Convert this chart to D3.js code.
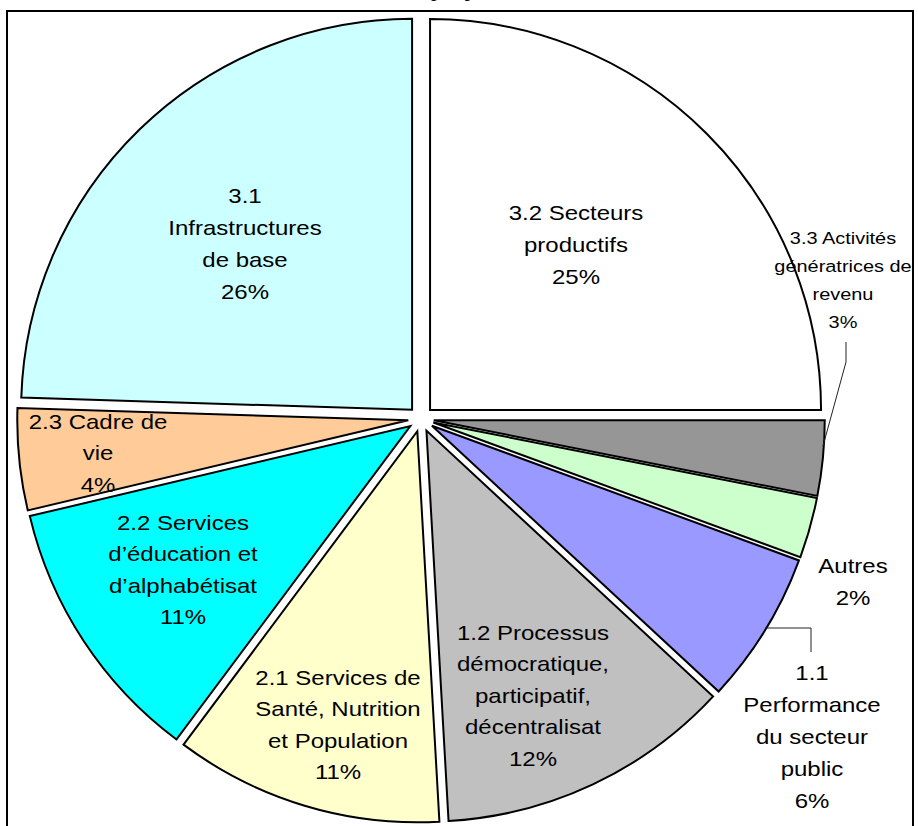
<!DOCTYPE html>
<html>
<head>
<meta charset="utf-8">
<script src="https://cdn.jsdelivr.net/npm/d3@7"></script>
<style>
html,body{margin:0;padding:0;background:#fff;}
svg{display:block;}
</style>
</head>
<body>
<svg id="chart" width="918" height="826"></svg>
<script>
// ---- data ----
const categories = [
  "3.2 Secteurs productifs",
  "3.3 Activités génératrices de revenu",
  "Autres",
  "1.1 Performance du secteur public",
  "1.2 Processus démocratique, participatif, décentralisat",
  "2.1 Services de Santé, Nutrition et Population",
  "2.2 Services d’éducation et d’alphabétisat",
  "2.3 Cadre de vie",
  "3.1 Infrastructures de base"
];
const values = [25.0, 3.1, 2.5, 6.3, 12.2, 11.1, 11.1, 4.2, 24.5];
const percentLabels = ["25%", "3%", "2%", "6%", "12%", "11%", "11%", "4%", "26%"];
const labelLines = [
  ["3.2 Secteurs", "productifs", "25%"],
  ["3.3 Activités", "génératrices de", "revenu", "3%"],
  ["Autres", "2%"],
  ["1.1", "Performance", "du secteur", "public", "6%"],
  ["1.2 Processus", "démocratique,", "participatif,", "décentralisat", "12%"],
  ["2.1 Services de", "Santé, Nutrition", "et Population", "11%"],
  ["2.2 Services", "d’éducation et", "d’alphabétisat", "11%"],
  ["2.3 Cadre de", "vie", "4%"],
  ["3.1", "Infrastructures", "de base", "26%"]
];
const colors = ["#FFFFFF", "#969696", "#CCFFCC", "#9999FF", "#C0C0C0", "#FFFFCC", "#00FFFF", "#FFCC99", "#CCFFFF"];

// ---- layout ----
const svg = d3.select("#chart");
const cx = 421, cy = 419, R = 391, explode = 12.8;

// partially cropped title at the very top
const title = svg.append("text")
  .attr("y", -4)
  .attr("font-family", "Liberation Serif, Times New Roman, serif")
  .attr("font-size", 22)
  .attr("fill", "#000")
  .text("Ventilation par pilier");
try {
  const full = title.node().textContent;
  const idx = full.indexOf("par");
  const pre = title.node().getSubStringLength(0, idx);
  title.attr("x", 431 - pre);
} catch (e) { title.attr("x", 330); }

// frame
svg.append("rect")
  .attr("x", 7).attr("y", 11)
  .attr("width", 906).attr("height", 840)
  .attr("fill", "none").attr("stroke", "#000").attr("stroke-width", 2);

const pie = d3.pie().sort(null).value(d => d).startAngle(0).endAngle(2 * Math.PI);
const arcs = pie(values);
const arc = d3.arc().innerRadius(0).outerRadius(R);

const g = svg.append("g").attr("transform", `translate(${cx},${cy})`);
g.selectAll("path.slice")
  .data(arcs)
  .join("path")
  .attr("class", "slice")
  .attr("transform", d => {
    const m = (d.startAngle + d.endAngle) / 2;
    return `translate(${explode * Math.sin(m)},${-explode * Math.cos(m)})`;
  })
  .attr("d", arc)
  .attr("fill", (d, i) => colors[i])
  .attr("stroke", "#000")
  .attr("stroke-width", 2)
  .attr("stroke-linejoin", "miter");

// leader lines
const leaders = [
  [[846, 342], [846, 362], [823, 446]],
  [[765, 628], [811, 628], [811, 652]]
];
svg.selectAll("path.leader")
  .data(leaders)
  .join("path")
  .attr("class", "leader")
  .attr("d", d3.line())
  .attr("fill", "none")
  .attr("stroke", "#222")
  .attr("stroke-width", 1);

// labels: anchor x, first baseline, line spacing, font size
const labelPos = [
  [576, 220, 32, 20],
  [843, 244, 28, 16.6],
  [853, 573, 32, 20],
  [812, 680, 32, 20],
  [533, 640, 31.5, 20],
  [338, 685, 31.5, 20],
  [183, 530, 31.5, 20],
  [98, 429, 31.5, 20],
  [245, 203, 32, 20]
];
const sx = 1.2;
labelLines.forEach((lines, i) => {
  const [x, y0, dy, fs] = labelPos[i];
  const t = svg.append("g").attr("transform", `translate(${x},${y0}) scale(${sx},1)`);
  lines.forEach((ln, k) => {
    t.append("text")
      .attr("x", 0)
      .attr("y", k * dy)
      .attr("text-anchor", "middle")
      .attr("font-family", "Liberation Sans, Arial, sans-serif")
      .attr("font-size", fs)
      .attr("fill", "#000")
      .text(ln);
  });
});
</script>
</body>
</html>
